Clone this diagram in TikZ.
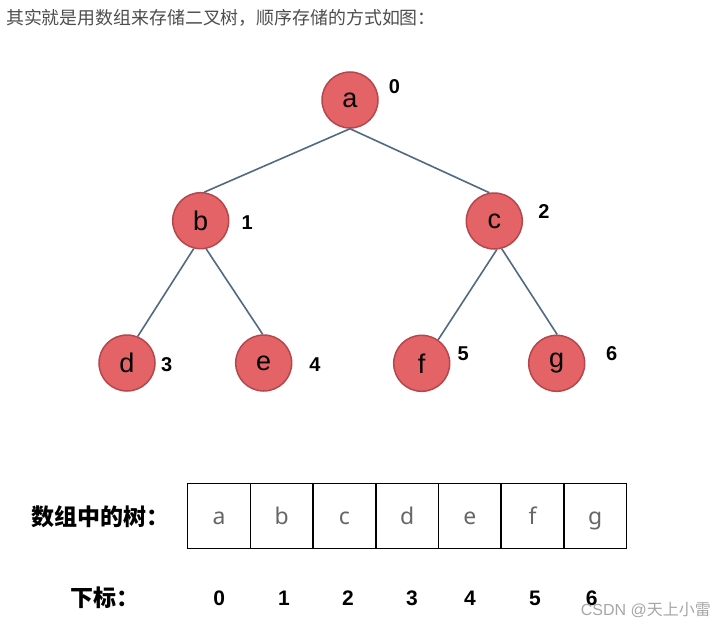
\documentclass[tikz,border=0pt]{standalone}
\usepackage{fontspec}
\setmainfont{Liberation Sans}
\newfontfamily\cjk{Noto Sans CJK SC}
\newfontfamily\cellfont{Noto Sans}
\definecolor{nodefill}{HTML}{E36366}
\definecolor{nodeline}{HTML}{B4474B}
\definecolor{edgeline}{HTML}{4F6A82}
\definecolor{celltext}{HTML}{666666}
\definecolor{titletext}{HTML}{4D4D4D}
\definecolor{marktext}{HTML}{A6A6A6}

\begin{document}
\begin{tikzpicture}[x=1pt,y=-1pt]
		\tikzstyle{every node}+=[inner sep=0pt]
		\tikzstyle{treenode}=[circle,minimum size=56pt,fill=nodefill,draw=nodeline,line width=1.5pt,font=\fontsize{27}{30}\selectfont]
		\tikzstyle{idx}=[font=\fontsize{20}{24}\selectfont\bfseries]
		\tikzstyle{edge}=[draw=edgeline,line width=1.6pt]
		\tikzstyle{cell}=[rectangle,draw=black,line width=1.5pt,minimum width=62.7pt,minimum height=65pt,text height=20pt,text depth=3pt,text=celltext,font=\cellfont\fontsize{23}{26}\selectfont]
		\useasboundingbox (0,0) rectangle (726,629);
		% title line
		\node [anchor=west,text=titletext,font=\cjk\fontsize{17.9}{20}\selectfont] (title) at (6,18) {其实就是用数组来存储二叉树，顺序存储的方式如图：};
		% tree
		\node [treenode] (n0) at (350,100) {a};
		\node [treenode] (n1) at (200.7,220.7) {b};
		\node [treenode] (n2) at (494.3,221) {c};
		\node [treenode] (n3) at (127,363) {d};
		\node [treenode] (n4) at (263.7,363) {e};
		\node [treenode] (n5) at (421.7,363.3) {f};
		\node [treenode] (n6) at (556.7,363.3) {g};
		\node [idx] (l0) at (394.5,87) {0};
		\node [idx] (l1) at (247.3,222.7) {1};
		\node [idx] (l2) at (544,211.7) {2};
		\node [idx] (l3) at (166.7,364.3) {3};
		\node [idx] (l4) at (315,364.3) {4};
		\node [idx] (l5) at (463.3,354) {5};
		\node [idx] (l6) at (611.7,354) {6};
		\draw [edge] (n0.south) -- (n1.83);
		\draw [edge] (n0.south) -- (n2.100);
		\draw [edge] (n1.-104) -- (n3.68);
		\draw [edge] (n1.-79) -- (n4.92);
		\draw [edge] (n2.-85) -- (n5.55);
		\draw [edge] (n2.-75) -- (n6.89);
		% array
		\node [anchor=west,font=\cjk\fontsize{23}{26}\selectfont\bfseries] (arr) at (31,516.5) {数组中的树：};
		\node [anchor=west,font=\cjk\fontsize{23}{26}\selectfont\bfseries] (sub) at (70,598) {下标：};
		\foreach \v [count=\i from 0] in {a,b,c,d,e,f,g}
			\node [cell] (c\i) at ({219.05+62.7*\i},516) {\v};
		\foreach \x [count=\i from 0] in {219.3,284,348,412,470,535,591.7}
			\node [idx,font=\fontsize{21}{24}\selectfont\bfseries] (k\i) at (\x,598.3) {\i};
		\node [anchor=east,text=marktext,font=\fontsize{16}{19}\selectfont] (mark) at (711,610) {CSDN @{\cjk 天上小雷}};
	\end{tikzpicture}
\end{document}
